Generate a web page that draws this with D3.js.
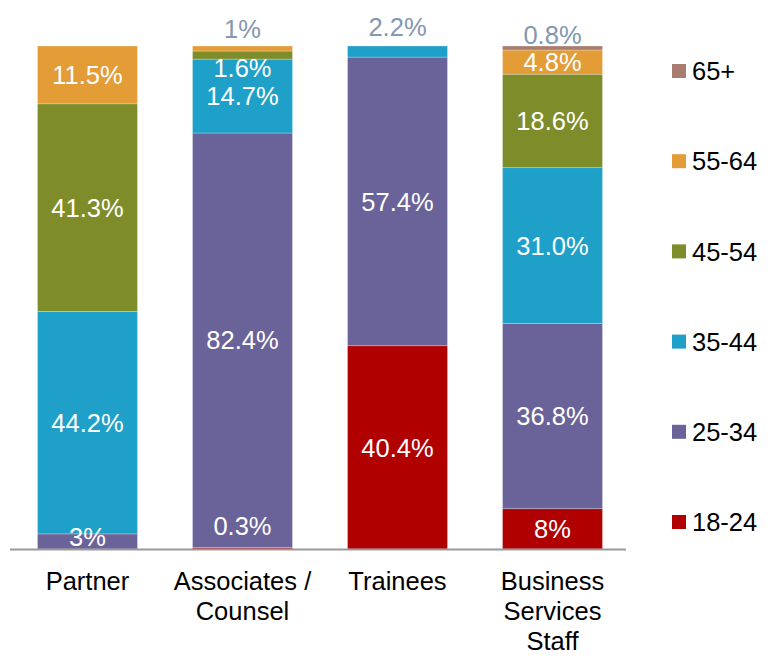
<!DOCTYPE html>
<html>
<head>
<meta charset="utf-8">
<script src="https://cdn.jsdelivr.net/npm/d3@7"></script>
<style>
  body { margin: 0; background: #fff; }
  svg text { font-family: "Liberation Sans", Arial, sans-serif; }
</style>
</head>
<body>
<div id="chart"></div>
<script>
// Chart data
const categories = ["Partner", "Associates / Counsel", "Trainees", "Business Services Staff"];
const categoryLines = [["Partner"], ["Associates /", "Counsel"], ["Trainees"], ["Business", "Services", "Staff"]];
const ageGroups = ["18-24", "25-34", "35-44", "45-54", "55-64", "65+"];

// values as printed on the chart (strings keep the decimals shown)
const age18_24 = [null, "0.3", "40.4", "8"];
const age25_34 = ["3", "82.4", "57.4", "36.8"];
const age35_44 = ["44.2", "14.7", "2.2", "31.0"];
const age45_54 = ["41.3", "1.6", null, "18.6"];
const age55_64 = ["11.5", "1", null, "4.8"];
const age65plus = [null, null, null, "0.8"];

const colors = ["#b00000", "#6a6399", "#1ea0c8", "#7f8c2a", "#e39c36", "#a97c70"];

const seriesValues = [age18_24, age25_34, age35_44, age45_54, age55_64, age65plus];

const width = 771, height = 664;
const margin = { top: 46, bottom: 115, left: 10, right: 141 };
const fontSize = 25.5;

const table = categories.map((c, i) => {
  const row = { category: c };
  ageGroups.forEach((g, j) => { row[g] = seriesValues[j][i] == null ? 0 : +seriesValues[j][i]; });
  return row;
});

const stack = d3.stack().keys(ageGroups)(table);

const x = d3.scaleBand()
  .domain(categories)
  .range([margin.left, width - margin.right])
  .paddingInner(0.355)
  .paddingOuter(0.1774);

const y = d3.scaleLinear()
  .domain([0, 100])
  .range([height - margin.bottom, margin.top]);

const color = d3.scaleOrdinal().domain(ageGroups).range(colors);

// small segments: labels moved so they stay readable
const outside = new Set(["Associates / Counsel|55-64", "Trainees|35-44", "Business Services Staff|65+"]);
const nudge = {
  "Partner|25-34": -5,
  "Associates / Counsel|18-24": -22,
  "Associates / Counsel|45-54": 13,
  "Associates / Counsel|55-64": -20,
  "Trainees|35-44": -25,
  "Business Services Staff|65+": -13
};

const svg = d3.select("#chart").append("svg")
  .attr("width", width)
  .attr("height", height);

const layers = svg.append("g")
  .selectAll("g")
  .data(stack)
  .join("g")
  .attr("fill", d => color(d.key));

layers.selectAll("rect")
  .data(d => d.map(p => Object.assign(p, { key: d.key })))
  .join("rect")
  .attr("x", d => x(d.data.category))
  .attr("width", x.bandwidth())
  .attr("y", d => y(d[1]))
  .attr("height", d => y(d[0]) - y(d[1]))
  .attr("stroke", "rgba(255,255,255,0.45)")
  .attr("stroke-width", 0.6);

// baseline
svg.append("line")
  .attr("x1", margin.left)
  .attr("x2", width - margin.right - 4)
  .attr("y1", y(0) + 0.5)
  .attr("y2", y(0) + 0.5)
  .attr("stroke", "#9a9a9a")
  .attr("stroke-width", 2);

// value labels
const labels = [];
stack.forEach((layer, j) => {
  layer.forEach((p, i) => {
    const raw = seriesValues[j][i];
    if (raw == null) return;
    const k = categories[i] + "|" + layer.key;
    labels.push({
      text: raw + "%",
      cx: x(categories[i]) + x.bandwidth() / 2,
      cy: (y(p[0]) + y(p[1])) / 2 + (nudge[k] || 0),
      out: outside.has(k)
    });
  });
});

svg.append("g")
  .selectAll("text")
  .data(labels)
  .join("text")
  .attr("x", d => d.cx)
  .attr("y", d => d.cy)
  .attr("dy", "0.36em")
  .attr("text-anchor", "middle")
  .attr("font-size", fontSize)
  .attr("fill", d => d.out ? "#8497b0" : "#fff")
  .text(d => d.text);

// category axis labels
const cat = svg.append("g")
  .selectAll("text")
  .data(categories)
  .join("text")
  .attr("x", d => x(d) + x.bandwidth() / 2)
  .attr("y", 590)
  .attr("text-anchor", "middle")
  .attr("font-size", fontSize)
  .attr("fill", "#000");

cat.selectAll("tspan")
  .data((d, i) => categoryLines[i])
  .join("tspan")
  .attr("x", function () { return this.parentNode.getAttribute("x"); })
  .attr("dy", (d, i) => i === 0 ? 0 : 30)
  .text(d => d);

// legend, top item is 65+
const legendY = d3.scalePoint()
  .domain(ageGroups.slice().reverse())
  .range([71, 522]);

const legend = svg.append("g")
  .selectAll("g")
  .data(ageGroups)
  .join("g")
  .attr("transform", d => `translate(672,${legendY(d)})`);

legend.append("rect")
  .attr("x", 0)
  .attr("y", -7)
  .attr("width", 14)
  .attr("height", 14)
  .attr("fill", d => color(d));

legend.append("text")
  .attr("x", 20)
  .attr("dy", "0.36em")
  .attr("font-size", fontSize)
  .attr("fill", "#000")
  .text(d => d);
</script>
</body>
</html>
